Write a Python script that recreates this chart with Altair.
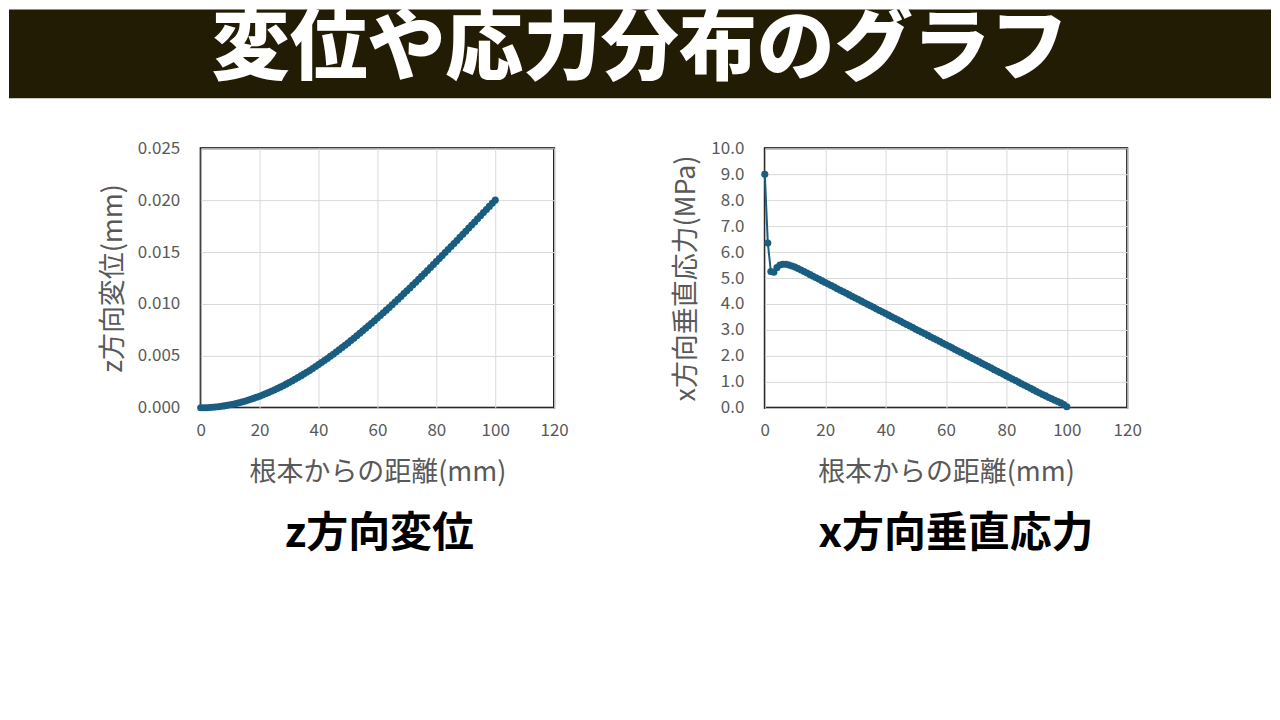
import altair as alt
import pandas as pd

# 根本からの距離 (mm), 1 mm pitch
dist = list(range(0, 101))

# z方向変位 (mm)
disp_z = [
    0.0, 0.000003, 0.000012, 0.000027, 0.000047, 0.000074, 0.000106, 0.000144,
    0.000187, 0.000236, 0.00029, 0.00035, 0.000415, 0.000485, 0.000561, 0.000641,
    0.000727, 0.000818, 0.000914, 0.001014, 0.00112, 0.00123, 0.001346, 0.001465,
    0.00159, 0.001719, 0.001852, 0.00199, 0.002132, 0.002279, 0.00243, 0.002585,
    0.002744, 0.002908, 0.003075, 0.003246, 0.003421, 0.0036, 0.003783, 0.00397,
    0.00416, 0.004354, 0.004551, 0.004752, 0.004956, 0.005164, 0.005375, 0.005589,
    0.005806, 0.006027, 0.00625, 0.006476, 0.006706, 0.006938, 0.007173, 0.007411,
    0.007652, 0.007895, 0.008141, 0.008389, 0.00864, 0.008893, 0.009149, 0.009407,
    0.009667, 0.009929, 0.010193, 0.010459, 0.010728, 0.010998, 0.01127, 0.011544,
    0.01182, 0.012097, 0.012376, 0.012656, 0.012938, 0.013222, 0.013506, 0.013793,
    0.01408, 0.014369, 0.014658, 0.014949, 0.015241, 0.015534, 0.015827, 0.016122,
    0.016417, 0.016713, 0.01701, 0.017307, 0.017605, 0.017903, 0.018202, 0.018501,
    0.018801, 0.0191, 0.0194, 0.0197, 0.02,
]

# x方向垂直応力 (MPa)
stress_s = [
    9.0, 6.35, 5.25, 5.22, 5.40, 5.50, 5.53, 5.53, 5.50, 5.46,
    5.42, 5.37, 5.31, 5.25, 5.19, 5.13, 5.07, 5.01, 4.95, 4.89,
    4.83, 4.77, 4.71, 4.65, 4.59, 4.53, 4.47, 4.41, 4.35, 4.29,
    4.23, 4.17, 4.11, 4.05, 3.99, 3.93, 3.87, 3.81, 3.75, 3.69,
    3.63, 3.57, 3.51, 3.45, 3.39, 3.33, 3.27, 3.21, 3.15, 3.09,
    3.03, 2.97, 2.91, 2.85, 2.79, 2.73, 2.67, 2.61, 2.55, 2.49,
    2.43, 2.37, 2.31, 2.25, 2.19, 2.13, 2.07, 2.01, 1.95, 1.89,
    1.83, 1.77, 1.71, 1.65, 1.59, 1.53, 1.47, 1.41, 1.35, 1.29,
    1.23, 1.17, 1.11, 1.05, 0.99, 0.93, 0.87, 0.81, 0.75, 0.69,
    0.63, 0.57, 0.51, 0.46, 0.40, 0.35, 0.29, 0.24, 0.19, 0.13,
    0.04,
]

x_ticks = [0, 20, 40, 60, 80, 100, 120]
LINE = "#195e80"
GRAY = "#595959"
FONT = "Noto Sans CJK JP"

disp_df = pd.DataFrame({"dist": dist, "val": disp_z})
stress_df = pd.DataFrame({"dist": dist, "val": stress_s})


def panel(df, y_title, y_domain, y_ticks, y_format, sub_title, w, sub_dx):
    x_enc = alt.X("dist:Q", title="根本からの距離(mm)",
                  scale=alt.Scale(domain=[0, 120], nice=False),
                  axis=alt.Axis(values=x_ticks, labelPadding=15, titlePadding=21))
    y_enc = alt.Y("val:Q", title=y_title,
                  scale=alt.Scale(domain=y_domain, nice=False),
                  axis=alt.Axis(values=y_ticks, format=y_format,
                                labelPadding=21, titlePadding=10))
    base = alt.Chart(df).encode(x=x_enc, y=y_enc)
    line = base.mark_line(color=LINE, strokeWidth=2)
    pts = base.mark_circle(color=LINE, size=50, opacity=1)
    return alt.layer(line, pts).properties(
        width=w, height=260,
        title=alt.TitleParams(sub_title, orient="bottom", fontSize=42,
                              fontWeight="bold", color="#000000", font=FONT,
                              offset=28, dx=sub_dx),
    )


left = panel(disp_df, "z方向変位(mm)", [0, 0.025],
             [0, 0.005, 0.01, 0.015, 0.02, 0.025], ".3f", "z方向変位", 354, 2)
right = panel(stress_df, "x方向垂直応力(MPa)", [0, 10],
              list(range(0, 11)), ".1f", "x方向垂直応力", 363, 10)

blank = pd.DataFrame({"t": [""]})

spacer = alt.Chart(blank).mark_text().encode(
    text="t:N", x=alt.value(0), y=alt.value(0)
).properties(width=88, height=1,
             view=alt.ViewBackground(stroke="transparent"))

header_bg = alt.Chart(blank).mark_rect(color="#231c05").encode(
    x=alt.value(0), x2=alt.value(1264), y=alt.value(0), y2=alt.value(89)
)
header_txt = alt.Chart(pd.DataFrame({"t": ["変位や応力分布のグラフ"]})).mark_text(
    color="white", fontSize=78, fontWeight=900, font=FONT, baseline="middle"
).encode(
    text="t:N", x=alt.value(632), y=alt.value(42)
)
header = alt.layer(header_bg, header_txt).properties(
    width=1264, height=89,
    view=alt.ViewBackground(stroke="transparent"),
)

panels = alt.hconcat(left, right, spacing=101)
body = alt.hconcat(spacer, panels, spacing=0)

chart = alt.vconcat(header, body, spacing=39).properties(
    padding={"left": 0, "top": 0, "right": 0, "bottom": 20}
).configure_axis(
    labelFont=FONT, titleFont=FONT, labelColor=GRAY, titleColor=GRAY,
    labelFontSize=17, titleFontSize=27, titleFontWeight="normal",
    gridColor="#d9d9d9", domain=False, ticks=False, labelFlush=False,
).configure_view(
    stroke="#000000", strokeWidth=2
)

chart.save("out.html", embed_options={"renderer": "svg", "actions": False})
